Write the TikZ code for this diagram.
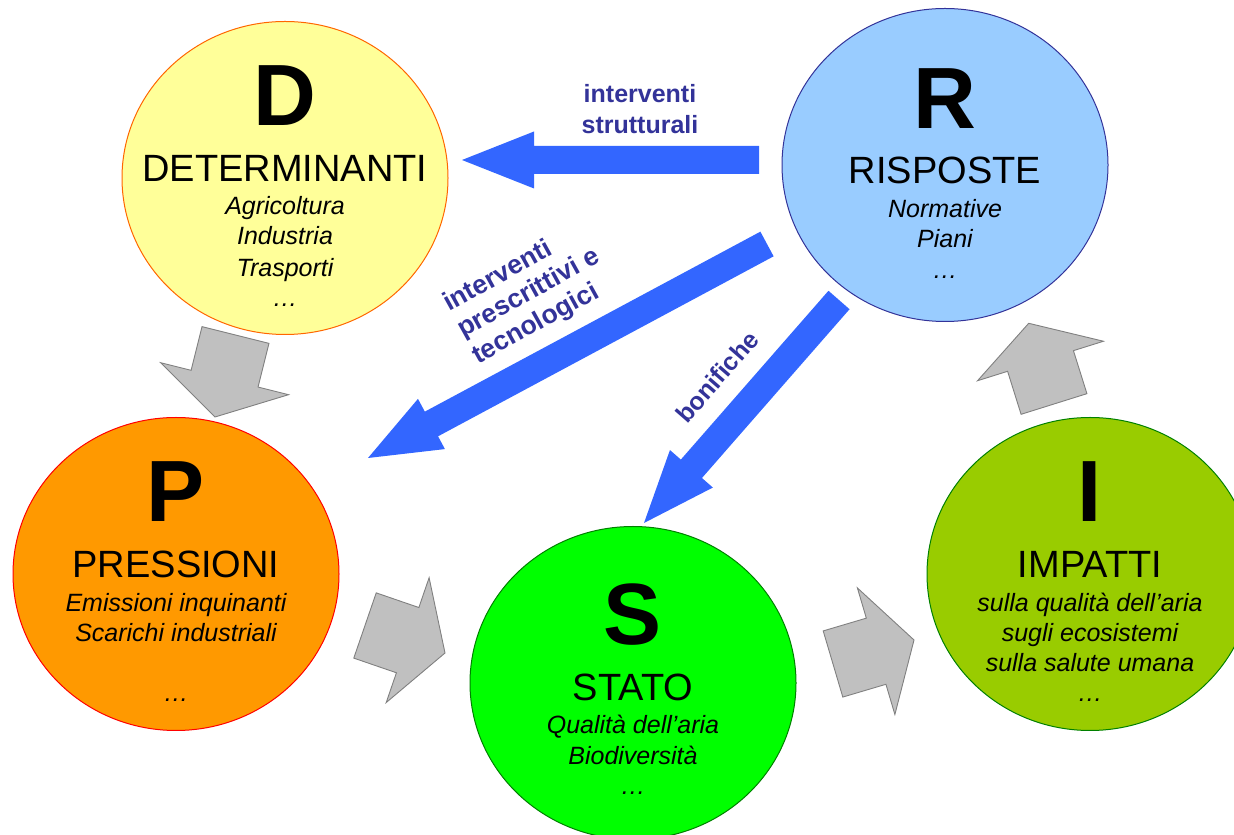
\documentclass[tikz,border=0pt]{standalone}
\usepackage{fontspec}
\setmainfont{Liberation Sans}
\usetikzlibrary{shapes.geometric,calc}

\definecolor{detfill}{HTML}{FFFF99}
\definecolor{detline}{HTML}{FF6600}
\definecolor{resfill}{HTML}{99CCFF}
\definecolor{resline}{HTML}{333399}
\definecolor{presfill}{HTML}{FF9900}
\definecolor{presline}{HTML}{FF0000}
\definecolor{statfill}{HTML}{00FF00}
\definecolor{statline}{HTML}{008000}
\definecolor{impfill}{HTML}{99CC00}
\definecolor{impline}{HTML}{008000}
\definecolor{arrowgray}{HTML}{C0C0C0}
\definecolor{arrowedge}{HTML}{808080}
\definecolor{arrowblue}{HTML}{3366FF}
\definecolor{labelblue}{HTML}{333399}

% block arrow: style, from, to, shaft half width, head half width, head length
\newcommand{\fatarrow}[6]{%
  \path[#1] ($(#2)!#4!90:(#3)$) -- ($(#3)!#6!(#2)!#4!-90:(#2)$)
    -- ($(#3)!#6!(#2)!#5!-90:(#2)$) -- (#3)
    -- ($(#3)!#6!(#2)!#5!90:(#2)$) -- ($(#3)!#6!(#2)!#4!90:(#2)$)
    -- ($(#2)!#4!-90:(#3)$) -- cycle;}

\tikzset{
  phase/.style={ellipse, minimum width=326pt, minimum height=313pt, inner sep=0pt, line width=1pt},
  bigletter/.style={anchor=base, inner sep=0pt, font=\fontsize{87}{87}\selectfont\bfseries},
  phasetitle/.style={anchor=base, inner sep=0pt, font=\fontsize{38}{38}\selectfont},
  phaseitem/.style={anchor=base, inner sep=0pt, font=\fontsize{25}{25}\selectfont\itshape},
  grayarrow/.style={fill=arrowgray, draw=arrowedge, line width=0.9pt},
  bluearrow/.style={fill=arrowblue},
  actionlabel/.style={text=labelblue, inner sep=0pt, align=center, font=\fontsize{25}{31}\selectfont\bfseries},
  slantlabel/.style={actionlabel, anchor=base west, rotate=29, font=\fontsize{26.5}{30}\selectfont\bfseries}
}

\begin{document}
\begin{tikzpicture}[x=1pt,y=1pt]
  \useasboundingbox (0,0) rectangle (1234,835);
  \clip (0,0) rectangle (1234,835);

  % the five phases
  \node[phase, fill=detfill, draw=detline] (D) at (285,657) {};
  \node[phase, fill=resfill, draw=resline] (R) at (945,670) {};
  \node[phase, fill=presfill, draw=presline] (P) at (176,261) {};
  \node[phase, fill=statfill, draw=statline] (S) at (633,152) {};
  \node[phase, fill=impfill, draw=impline] (I) at (1090,261) {};

  % D
  \node[bigletter] (Dletter) at ($(D)+(0,52)$) {D};
  \node[phasetitle] (Dtitle) at ($(D)+(0,-4)$) {DETERMINANTI};
  \node[phaseitem] (Done) at ($(D)+(0,-37)$) {Agricoltura};
  \node[phaseitem] (Dtwo) at ($(D)+(0,-67)$) {Industria};
  \node[phaseitem] (Dthree) at ($(D)+(0,-99)$) {Trasporti};
  \node[phaseitem] (Ddots) at ($(D)+(0,-129)$) {…};

  % R
  \node[bigletter] (Rletter) at ($(R)+(0,36)$) {R};
  \node[phasetitle] (Rtitle) at ($(R)+(0,-19)$) {RISPOSTE};
  \node[phaseitem] (Rone) at ($(R)+(0,-53)$) {Normative};
  \node[phaseitem] (Rtwo) at ($(R)+(0,-83)$) {Piani};
  \node[phaseitem] (Rdots) at ($(R)+(0,-114)$) {…};

  % P
  \node[bigletter] (Pletter) at ($(P)+(0,52)$) {P};
  \node[phasetitle] (Ptitle) at ($(P)+(0,-4)$) {PRESSIONI};
  \node[phaseitem] (Pone) at ($(P)+(0,-38)$) {Emissioni inquinanti};
  \node[phaseitem] (Ptwo) at ($(P)+(0,-68)$) {Scarichi industriali};
  \node[phaseitem] (Pdots) at ($(P)+(0,-128)$) {…};

  % S
  \node[bigletter] (Sletter) at ($(S)+(0,38)$) {S};
  \node[phasetitle] (Stitle) at ($(S)+(0,-18)$) {STATO};
  \node[phaseitem] (Sone) at ($(S)+(0,-51)$) {Qualità dell’aria};
  \node[phaseitem] (Stwo) at ($(S)+(0,-82)$) {Biodiversità};
  \node[phaseitem] (Sdots) at ($(S)+(0,-112)$) {…};

  % I
  \node[bigletter] (Iletter) at ($(I)+(0,52)$) {I};
  \node[phasetitle] (Ititle) at ($(I)+(0,-4)$) {IMPATTI};
  \node[phaseitem] (Ione) at ($(I)+(0,-38)$) {sulla qualità dell’aria};
  \node[phaseitem] (Itwo) at ($(I)+(0,-68)$) {sugli ecosistemi};
  \node[phaseitem] (Ithree) at ($(I)+(0,-98)$) {sulla salute umana};
  \node[phaseitem] (Idots) at ($(I)+(0,-128)$) {…};

  % arrow ends
  \coordinate (DPfrom) at (235.5,500);
  \coordinate (DPto) at (215,418);
  \coordinate (PSfrom) at (365,209.5);
  \coordinate (PSto) at (445,182);
  \coordinate (SIfrom) at (833,171);
  \coordinate (SIto) at (914,195);
  \coordinate (IRfrom) at (1054,431);
  \coordinate (IRto) at (1028.7,511.7);
  \coordinate (RDfrom) at (759,675);
  \coordinate (RDto) at (462,675);
  \coordinate (RPfrom) at (767,591);
  \coordinate (RPto) at (368,377);
  \coordinate (RSfrom) at (839,535);
  \coordinate (RSto) at (644,312);

  % the cycle
  \fatarrow{grayarrow}{DPfrom}{DPto}{34.5pt}{66pt}{39.5pt}
  \fatarrow{grayarrow}{PSfrom}{PSto}{34.5pt}{66pt}{39.5pt}
  \fatarrow{grayarrow}{SIfrom}{SIto}{34.5pt}{66pt}{39.5pt}
  \fatarrow{grayarrow}{IRfrom}{IRto}{34.5pt}{66pt}{39.5pt}

  % the responses
  \fatarrow{bluearrow}{RDfrom}{RDto}{14pt}{28.5pt}{72pt}
  \fatarrow{bluearrow}{RPfrom}{RPto}{14pt}{28.5pt}{72pt}
  \fatarrow{bluearrow}{RSfrom}{RSto}{14pt}{28.5pt}{72pt}

  \node[actionlabel] (strut) at (640,726) {interventi\\strutturali};
  \node[slantlabel] (prescone) at (449,523) {interventi};
  \node[slantlabel] (presctwo) at (463.5,497) {prescrittivi e};
  \node[slantlabel] (prescthree) at (478,470.5) {tecnologici};
  \node[actionlabel, rotate=49] (bonif) at (717,458) {bonifiche};
\end{tikzpicture}
\end{document}
